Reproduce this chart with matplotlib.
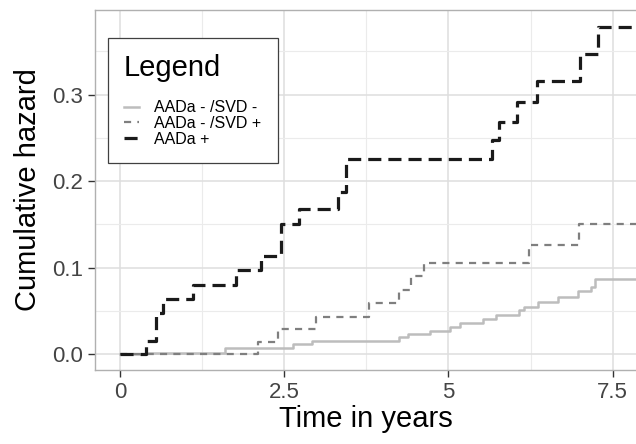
import matplotlib.pyplot as plt
import numpy as np

plt.rcParams['font.family'] = ['Liberation Sans', 'DejaVu Sans']

# follow-up time (years) and cumulative hazard for each group
neg_time = [0, 0.41, 1.60, 2.64, 2.93, 4.24, 4.39, 4.72, 5.02, 5.18, 5.53, 5.73,
            6.08, 6.15, 6.36, 6.66, 6.97, 7.17, 7.23, 8.0]
neg_haz = [0, 0.0015, 0.0066, 0.011, 0.015, 0.0193, 0.0231, 0.027, 0.0316, 0.036, 0.041, 0.045,
           0.0509, 0.0547, 0.0605, 0.0663, 0.0732, 0.0778, 0.0867, 0.0867]

svd_time = [0, 2.10, 2.41, 2.98, 3.79, 4.24, 4.43, 4.62, 6.23, 6.98, 8.0]
svd_haz = [0, 0.0135, 0.0286, 0.0431, 0.0586, 0.074, 0.090, 0.1056, 0.126, 0.150, 0.150]

pos_time = [0, 0.39, 0.55, 0.66, 1.11, 1.77, 2.15, 2.45, 2.72, 3.32, 3.44,
            5.66, 5.77, 6.05, 6.35, 7.00, 7.28, 8.0]
pos_haz = [0, 0.0154, 0.0478, 0.0636, 0.0798, 0.0971, 0.1137, 0.150, 0.1676, 0.1877, 0.225,
           0.247, 0.2686, 0.2917, 0.316, 0.347, 0.378, 0.378]

labels = ['AADa - /SVD -', 'AADa - /SVD +', 'AADa +']
x_ticks = [0, 2.5, 5, 7.5]
x_tick_labels = ['0', '2.5', '5', '7.5']
y_ticks = [0.0, 0.1, 0.2, 0.3]
y_tick_labels = ['0.0', '0.1', '0.2', '0.3']

fig = plt.figure(figsize=(6.36, 4.44), dpi=100)
ax = fig.add_axes([95.2 / 636, 1 - 370 / 444, 1 - 95.2 / 636, 360 / 444])

ax.step(neg_time, neg_haz, where='post', color='#bdbdbd', lw=1.8, label=labels[0], zorder=3)
ax.step(svd_time, svd_haz, where='post', color='#7f7f7f', lw=1.6, dashes=(3.2, 2.8),
        label=labels[1], zorder=3)
ax.step(pos_time, pos_haz, where='post', color='#1a1a1a', lw=2.3, dashes=(4.1, 2.2),
        label=labels[2], zorder=4)

ax.set_xlim(-0.377, 7.854)
ax.set_ylim(-0.0185, 0.3977)
ax.set_xticks(x_ticks)
ax.set_xticklabels(x_tick_labels)
ax.set_yticks(y_ticks)
ax.set_yticklabels(y_tick_labels)
ax.set_xticks([1.25, 3.75, 6.25], minor=True)
ax.set_yticks([0.05, 0.15, 0.25, 0.35], minor=True)
ax.grid(which='major', color='#dedede', lw=1.1)
ax.grid(which='minor', color='#ebebeb', lw=0.8)
ax.set_axisbelow(True)

ax.tick_params(which='major', direction='out', length=4.8, width=1, color='#333333',
               labelsize=16, labelcolor='#444444', pad=4)
ax.tick_params(which='minor', length=0)

for side in ['left', 'top', 'bottom']:
    ax.spines[side].set_color('#b0b0b0')
    ax.spines[side].set_linewidth(1)
ax.spines['right'].set_visible(False)

ax.set_xlabel('Time in years', fontsize=21, labelpad=1)
ax.set_ylabel('Cumulative hazard', fontsize=21, labelpad=7)

leg = ax.legend(title='Legend', loc='upper left', bbox_to_anchor=(0.0237, 0.922),
                borderaxespad=0, fontsize=11.5, title_fontsize=21, alignment='left',
                fancybox=False, handlelength=0.97, handletextpad=0.94, labelspacing=0.05,
                borderpad=1.0, framealpha=1)
leg.get_frame().set_edgecolor('#404040')
leg.get_frame().set_linewidth(0.9)
leg._legend_box.sep = 13

fig.savefig('out.png', dpi=100)
